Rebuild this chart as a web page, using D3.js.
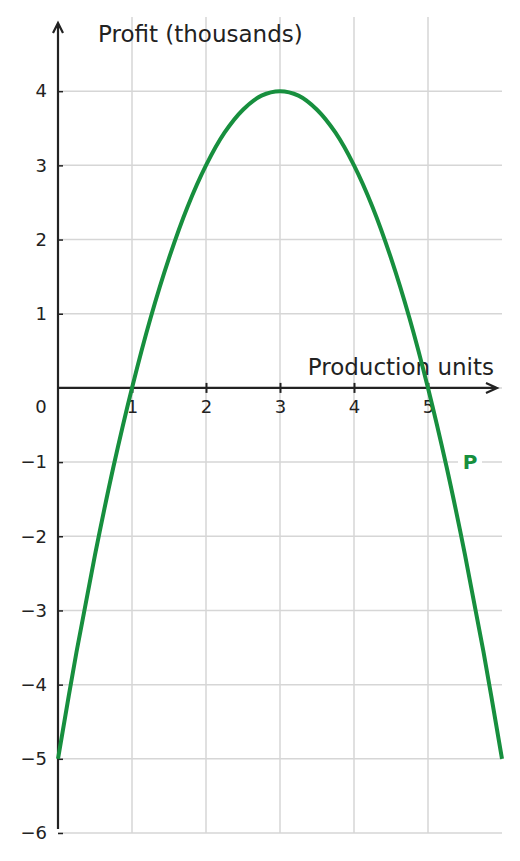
<!DOCTYPE html>
<html>
<head>
<meta charset="utf-8">
<script src="https://cdn.jsdelivr.net/npm/d3@7"></script>
<style>
  body { margin: 0; background: #fff; }
  svg { display: block; font-family: "DejaVu Sans", sans-serif; }
</style>
</head>
<body>
<div id="chart"></div>
<script>
// data
const xValues = [0, 0.25, 0.5, 0.75, 1, 1.25, 1.5, 1.75, 2, 2.25, 2.5, 2.75, 3,
  3.25, 3.5, 3.75, 4, 4.25, 4.5, 4.75, 5, 5.25, 5.5, 5.75, 6];
const profitValues = [-5, -3.56, -2.25, -1.06, 0, 0.94, 1.75, 2.44, 3, 3.44, 3.75, 3.94, 4,
  3.94, 3.75, 3.44, 3, 2.44, 1.75, 0.94, 0, -1.06, -2.25, -3.56, -5];
const xTicks = [1, 2, 3, 4, 5];
const yTicks = [4, 3, 2, 1, -1, -2, -3, -4, -5, -6];
const xGrid = [1, 2, 3, 4, 5];
const yGrid = [4, 3, 2, 1, 0, -1, -2, -3, -4, -5, -6];

const width = 520, height = 861;
const green = '#178f3e', ink = '#222', gridColor = '#d6d6d6';

const x = d3.scaleLinear().domain([0, 6]).range([58, 502]);
const y = d3.scaleLinear().domain([-6, 5]).range([833, 17]);

const svg = d3.select('#chart').append('svg')
  .attr('width', width)
  .attr('height', height);

// grid
svg.append('g').selectAll('line').data(xGrid).join('line')
  .attr('x1', d => x(d)).attr('x2', d => x(d))
  .attr('y1', y(5)).attr('y2', y(-6))
  .attr('stroke', gridColor).attr('stroke-width', 1.5);
svg.append('g').selectAll('line').data(yGrid).join('line')
  .attr('x1', x(0)).attr('x2', x(6))
  .attr('y1', d => y(d)).attr('y2', d => y(d))
  .attr('stroke', gridColor).attr('stroke-width', 1.5);

// y ticks + labels
const yAxis = svg.append('g')
  .attr('transform', `translate(${x(0)},0)`)
  .call(d3.axisLeft(y).tickValues(yTicks).tickFormat(d3.format('d')).tickSize(-5).tickPadding(11));
yAxis.select('.domain').remove();
yAxis.selectAll('line').attr('stroke', ink).attr('stroke-width', 1.5);
yAxis.selectAll('text').attr('font-size', 18).attr('fill', ink)
  .attr('font-family', '"DejaVu Sans", sans-serif');

// x ticks + labels
const xAxis = svg.append('g')
  .attr('transform', `translate(0,${y(0) - 5})`)
  .call(d3.axisBottom(x).tickValues(xTicks).tickFormat(d3.format('d')).tickSize(10).tickPadding(7));
xAxis.select('.domain').remove();
xAxis.selectAll('line').attr('stroke', ink).attr('stroke-width', 2);
xAxis.selectAll('text').attr('font-size', 18).attr('fill', ink)
  .attr('font-family', '"DejaVu Sans", sans-serif');

// origin label
svg.append('text')
  .attr('x', x(0) - 17).attr('y', y(0) + 25)
  .attr('text-anchor', 'middle')
  .attr('font-size', 18).attr('fill', ink)
  .text('0');

// axis lines with open arrows
svg.append('path')
  .attr('d', `M${x(0)},${y(-6) - 4}V${y(5) + 6}M${x(0) - 5},${y(5) + 16}L${x(0)},${y(5) + 6}L${x(0) + 5},${y(5) + 16}`)
  .attr('fill', 'none').attr('stroke', ink).attr('stroke-width', 2.2);
svg.append('path')
  .attr('d', `M${x(0)},${y(0)}H${x(6) - 5}M${x(6) - 16},${y(0) - 5}L${x(6) - 5},${y(0)}L${x(6) - 16},${y(0) + 5}`)
  .attr('fill', 'none').attr('stroke', ink).attr('stroke-width', 2.2);

// axis titles
svg.append('text')
  .attr('x', 98).attr('y', 42)
  .attr('font-size', 23).attr('fill', ink)
  .text('Profit (thousands)');
svg.append('text')
  .attr('x', 494).attr('y', 375)
  .attr('text-anchor', 'end')
  .attr('font-size', 23).attr('fill', ink)
  .text('Production units');

// curve
const line = d3.line()
  .x((d, i) => x(xValues[i]))
  .y(d => y(d))
  .curve(d3.curveCatmullRom.alpha(0.5));
svg.append('path')
  .datum(profitValues)
  .attr('fill', 'none')
  .attr('stroke', green)
  .attr('stroke-width', 4)
  .attr('d', line);

// series label with white backing
const lab = svg.append('g').attr('transform', `translate(${x(5.5) + 5},${y(-1)})`);
lab.append('rect')
  .attr('x', -12).attr('y', -12).attr('width', 24).attr('height', 24)
  .attr('fill', '#fff');
lab.append('text')
  .attr('dy', '0.35em')
  .attr('text-anchor', 'middle')
  .attr('font-size', 20).attr('font-weight', 'bold').attr('fill', green)
  .text('P');
</script>
</body>
</html>
